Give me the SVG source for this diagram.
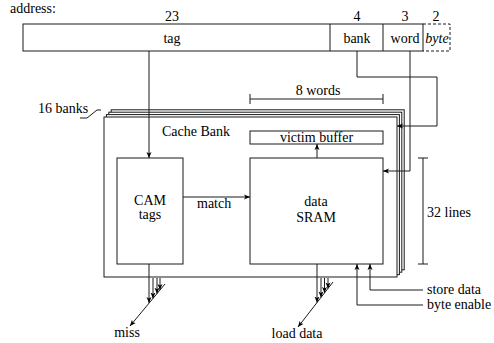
<svg xmlns="http://www.w3.org/2000/svg" width="494" height="343" viewBox="0 0 494 343" font-family="'Liberation Serif', 'DejaVu Serif', serif" font-size="14">
<style>
text{font-family:'Liberation Serif','DejaVu Serif',serif;font-size:14px;fill:#000}
.c{text-anchor:middle}
.ln{fill:none;stroke:#1a1a1a;stroke-width:1}
.bx{fill:#fff;stroke:#1a1a1a;stroke-width:1}
</style>
<defs>
<marker id="ah" markerWidth="7" markerHeight="6" refX="6" refY="3" orient="auto" markerUnits="userSpaceOnUse">
<path d="M0,0.5 L6,3 L0,5.5 L1.5,3 z" fill="#000"/>
</marker>
</defs>
<g id="address">
<text x="10" y="13">address:</text>
<text class="c" x="172" y="21">23</text>
<text class="c" x="357" y="21">4</text>
<text class="c" x="405" y="21">3</text>
<text class="c" x="436" y="21">2</text>
<rect class="bx" x="23" y="24" width="400" height="27"/>
<line class="ln" x1="330" y1="24" x2="330" y2="51"/>
<line class="ln" x1="383" y1="24" x2="383" y2="51"/>
<path class="ln" d="M423,24 H450 V51 H423" stroke-dasharray="3,2"/>
<text class="c" x="172" y="43">tag</text>
<text class="c" x="357" y="43">bank</text>
<text class="c" x="405" y="43">word</text>
<text class="c" x="437" y="43" font-style="italic">byte</text>
</g>
<g id="banks">
<rect class="bx" x="111.2" y="109.8" width="293" height="160"/>
<rect class="bx" x="108.8" y="112.2" width="293" height="160"/>
<rect class="bx" x="106.4" y="114.6" width="293" height="160"/>
<rect class="bx" x="104" y="117" width="293" height="160"/>
<text class="c" x="196" y="136">Cache Bank</text>
<text x="38" y="113">16 banks</text>
<path class="ln" d="M80,118 H87 L97,110 H101"/>
</g>
<g id="cam">
<rect class="bx" x="117" y="158" width="66" height="106"/>
<text class="c" x="150" y="205">CAM</text>
<text class="c" x="150" y="219">tags</text>
</g>
<g id="victim">
<rect class="bx" x="250" y="131" width="133" height="13"/>
<text class="c" x="316.5" y="142">victim buffer</text>
</g>
<g id="sram">
<rect class="bx" x="250" y="158" width="133" height="106"/>
<text class="c" x="316" y="206">data</text>
<text class="c" x="316" y="222">SRAM</text>
</g>
<g id="dims">
<path class="ln" d="M250,99 H383 M250,94 V104 M383,94 V104"/>
<text class="c" x="318" y="95">8 words</text>
<path class="ln" d="M423,158 V264 M418,158 H428 M418,264 H428"/>
<text x="427" y="217">32 lines</text>
</g>
<g id="connectors">
<line class="ln" x1="149" y1="51" x2="149" y2="158" marker-end="url(#ah)"/>
<path class="ln" d="M357,51 V77 H437 V126 H397" marker-end="url(#ah)"/>
<path class="ln" d="M410,51 V171 H383" marker-end="url(#ah)"/>
<line class="ln" x1="183" y1="197" x2="250" y2="197" marker-end="url(#ah)"/>
<text x="197" y="208">match</text>
<line class="ln" x1="317" y1="158" x2="317" y2="144" marker-end="url(#ah)"/>
<path class="ln" d="M423,290 H370 V264" marker-end="url(#ah)"/>
<path class="ln" d="M423,305 H357 V264" marker-end="url(#ah)"/>
<text x="427" y="294">store data</text>
<text x="427" y="309">byte enable</text>
<line class="ln" x1="149" y1="264" x2="149" y2="303" marker-end="url(#ah)"/>
<line class="ln" x1="153" y1="278" x2="153" y2="298.5" marker-end="url(#ah)"/>
<line class="ln" x1="157" y1="278" x2="157" y2="293.7" marker-end="url(#ah)"/>
<line class="ln" x1="160" y1="278" x2="160" y2="290" marker-end="url(#ah)"/>
<line class="ln" x1="165" y1="284" x2="130" y2="326" marker-end="url(#ah)"/>
<text class="c" x="127" y="337">miss</text>
<line class="ln" x1="317" y1="264" x2="317" y2="302.6" marker-end="url(#ah)"/>
<line class="ln" x1="321" y1="278" x2="321" y2="297.4" marker-end="url(#ah)"/>
<line class="ln" x1="324.5" y1="278" x2="324.5" y2="292.9" marker-end="url(#ah)"/>
<line class="ln" x1="328" y1="278" x2="328" y2="288.4" marker-end="url(#ah)"/>
<line class="ln" x1="333" y1="282" x2="298" y2="327" marker-end="url(#ah)"/>
<text class="c" x="297" y="338">load data</text>
</g>
</svg>
